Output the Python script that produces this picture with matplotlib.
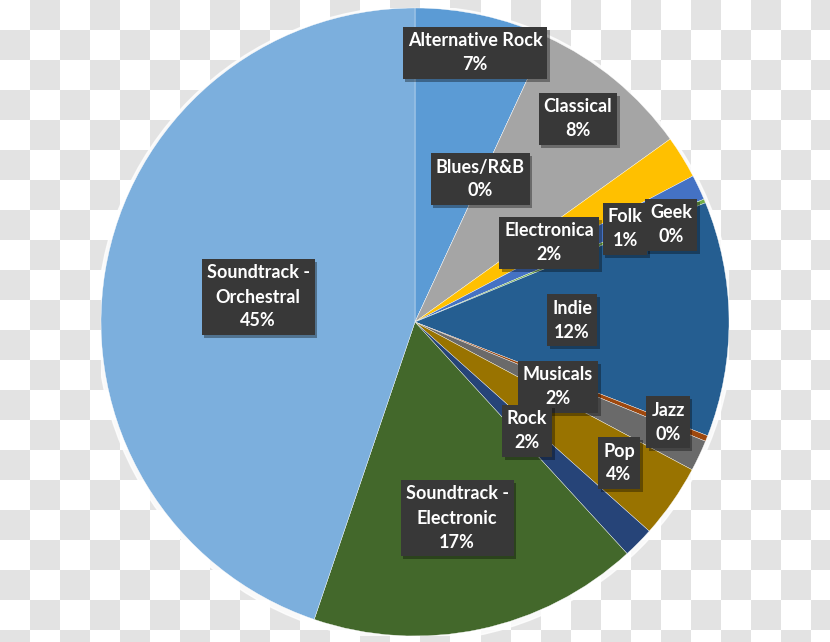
import matplotlib
matplotlib.use("Agg")
import matplotlib.pyplot as plt
import matplotlib.patheffects as pe
from matplotlib.colors import ListedColormap
from matplotlib.patches import Rectangle
from matplotlib.transforms import Bbox
import numpy as np

categories = ["Alternative Rock", "Blues/R&B", "Classical", "Electronica", "Folk", "Geek",
              "Indie", "Jazz", "Musicals", "Pop", "Rock", "Soundtrack -\nElectronic",
              "Soundtrack -\nOrchestral"]
values = [6.9, 0.0, 8.2, 2.2, 1.3, 0.2, 12.1, 0.3, 1.6, 3.8, 1.6, 17.0, 44.8]
colors = ["#5b9bd5", "#ed7d31", "#a5a5a5", "#ffc000", "#4472c4", "#70ad47",
          "#255e91", "#9e480e", "#6a6a6a", "#997300", "#264478", "#43682b", "#7cafdd"]

# label box centres in pixel coordinates (layout)
label_px = [(475, 53), (480, 179), (578, 119), (549, 243), (625, 229), (671, 225),
            (572, 320), (668, 422), (558, 387), (619, 463), (527, 431), (457, 518),
            (258, 297)]

W, H = 830, 642
fig = plt.figure(figsize=(W / 100, H / 100), dpi=100)

# checkerboard background
bg = fig.add_axes([0, 0, 1, 1])
sq = 30
nx, ny = W // sq + 1, H // sq + 1
board = (np.add.outer(np.arange(ny), np.arange(nx)) % 2).astype(float)
bg.imshow(board, cmap=ListedColormap(["#ffffff", "#e3e3e3"]), extent=(0, nx * sq, ny * sq, 0),
          interpolation="nearest", aspect="auto")
bg.set_xlim(0, W)
bg.set_ylim(H, 0)
bg.axis("off")

cx, cy, R = 415, 322, 314
ax = fig.add_axes([(cx - R) / W, (H - cy - R) / H, 2 * R / W, 2 * R / H])
ax.axis("off")

# soft glow around pie
ax.add_patch(plt.Circle((0.0, -0.006), 1.012, color="white", alpha=0.8, zorder=0))

ax.pie(values, colors=colors, startangle=90, counterclock=False, radius=1.0,
       wedgeprops=dict(edgecolor="white", linewidth=0.25), frame=False)
ax.set_xlim(-1, 1)
ax.set_ylim(-1, 1)

total = sum(values)
line_px = 24.0
font = dict(fontsize=13, family=["Lato", "DejaVu Sans"], fontweight="bold", color="white",
            ha="center", va="center", linespacing=1.6, zorder=6)
groups = []
for cat, v, (px, py) in zip(categories, values, label_px):
    n_name = cat.count("\n") + 1
    n = n_name + 1
    name_cy = py + ((n_name - 1) / 2 - (n - 1) / 2) * line_px
    pct_cy = py + (n - 1) / 2 * line_px
    t1 = ax.text((px - cx) / R, (cy - name_cy) / R, cat, **font)
    t2 = ax.text((px - cx) / R, (cy - pct_cy) / R, f"{round(v / total * 100)}%", **font)
    groups.append((t1, t2, py, n))

fig.canvas.draw()
renderer = fig.canvas.get_renderer()
inv = ax.transData.inverted()
for t1, t2, py, n in groups:
    bb = Bbox.union([t1.get_window_extent(renderer), t2.get_window_extent(renderer)])
    half_h = (n * line_px + 4) / 2
    ymid = H - py
    x0, x1 = bb.x0 - 5, bb.x1 + 5
    (dx0, dy0) = inv.transform((x0, ymid - half_h))
    (dx1, dy1) = inv.transform((x1, ymid + half_h))
    rect = Rectangle((dx0, dy0), dx1 - dx0, dy1 - dy0, facecolor="#383838",
                     edgecolor="none", zorder=5)
    rect.set_path_effects([pe.SimplePatchShadow(offset=(2, -2), shadow_rgbFace="black", alpha=0.35),
                           pe.Normal()])
    ax.add_patch(rect)

fig.savefig("out.png", dpi=100)
